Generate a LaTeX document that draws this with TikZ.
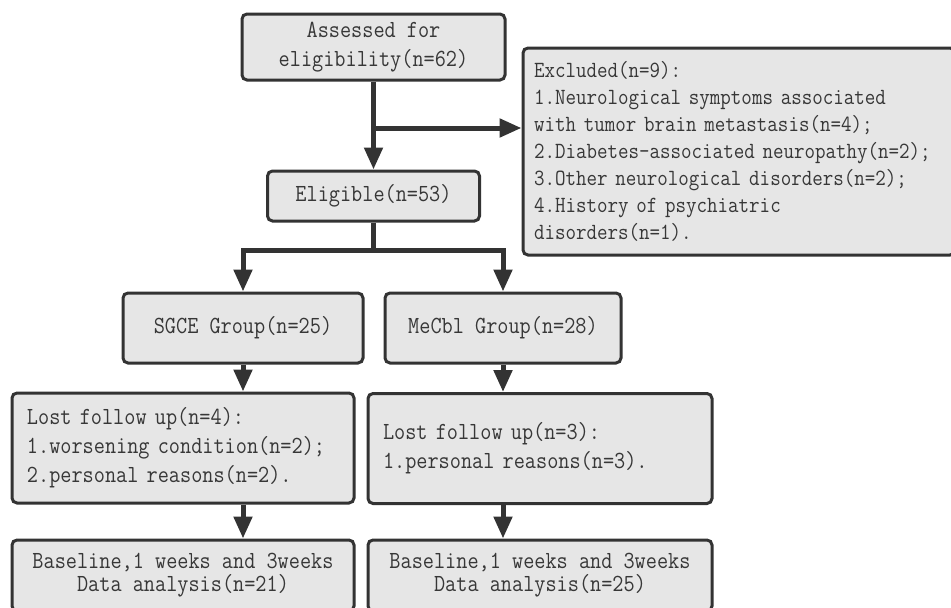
\documentclass[tikz,border=0pt]{standalone}
\usepackage{fontspec}
\setmonofont{Latin Modern Mono}[FakeStretch=0.88]
\usepackage{xcolor}
\usetikzlibrary{arrows.meta,positioning,calc}
\definecolor{boxgray}{RGB}{230,230,230}
\definecolor{inkgray}{RGB}{51,51,51}
\definecolor{textgray}{RGB}{55,55,55}
\newcommand{\boxfont}{\ttfamily\fontsize{24.6}{29}\selectfont\color{textgray}}
\newcommand{\notefont}{\ttfamily\fontsize{23.2}{27}\selectfont\color{textgray}}
\newcommand{\tightfont}{\ttfamily\fontsize{24.6}{23}\selectfont\color{textgray}}
\tikzset{
	stage/.style={
		rectangle,
		rounded corners=5pt,
		draw=inkgray,
		line width=3pt,
		fill=boxgray,
		inner sep=0pt,
		font=\boxfont,
		align=center,
	},
	notebox/.style={
		stage,
		align=left,
	},
	link/.style={
		-{Triangle[length=22pt,width=18pt]},
		line width=5pt,
		draw=inkgray,
	},
	trunk/.style={
		line width=5pt,
		draw=inkgray,
	},
}

\begin{document}
\begin{tikzpicture}[x=1pt,y=-1pt]

\useasboundingbox (0,0) rectangle (951,608);
\clip (0,0) rectangle (951,608);

\node[stage,minimum width=263pt,minimum height=66pt] (assess) at (373.5,47)
  {Assessed for\\eligibility(n=62)};
\node[notebox,font=\notefont,text width=410pt,minimum width=432pt,minimum height=207pt] (excl) at (739,151.5)
  {Excluded(n=9):\\
   1.Neurological symptoms associated\\
   with tumor brain metastasis(n=4);\\
   2.Diabetes-associated neuropathy(n=2);\\
   3.Other neurological disorders(n=2);\\
   4.History of psychiatric\\
   disorders(n=1).};
\node[stage,minimum width=212pt,minimum height=50pt] (elig) at (373.5,196) {Eligible(n=53)};
\node[stage,minimum width=240pt,minimum height=70pt] (sgce) at (243,328) {SGCE Group(n=25)};
\node[stage,minimum width=236pt,minimum height=70pt] (mecbl) at (503,328) {MeCbl Group(n=28)};
\node[notebox,text width=312pt,minimum width=342pt,minimum height=110pt] (lostA) at (183,448)
  {Lost follow up(n=4):\\
   1.worsening condition(n=2);\\
   2.personal reasons(n=2).};
\node[notebox,text width=314pt,minimum width=344pt,minimum height=110pt] (lostB) at (540,448.5)
  {Lost follow up(n=3):\\
   1.personal reasons(n=3).};
\node[stage,font=\tightfont,minimum width=342pt,minimum height=71pt] (baseA) at (183,575.5)
  {Baseline,1 weeks and 3weeks\\Data analysis(n=21)};
\node[stage,font=\tightfont,minimum width=344pt,minimum height=71pt] (baseB) at (540,575.5)
  {Baseline,1 weeks and 3weeks\\Data analysis(n=25)};

\coordinate (fork) at (373.5,128);
\coordinate (split) at (373.5,250);

\draw[link] 
  (assess.south) 
  -- 
  (assess.south |- elig.north);

\draw[link] 
  (fork) 
  -- 
  (fork -| excl.west);

\draw[trunk] 
  (elig.south) 
  -- 
  (split);

\draw[link] 
  (split) 
  -| 
  (sgce.north);

\draw[link] 
  (split) 
  -| 
  (mecbl.north);

\draw[link] 
  (sgce.south) 
  -- 
  (sgce.south |- lostA.north);

\draw[link] 
  (mecbl.south) 
  -- 
  (mecbl.south |- lostB.north);

\draw[link] 
  (sgce.south |- lostA.south) 
  -- 
  (sgce.south |- baseA.north);

\draw[link] 
  (mecbl.south |- lostB.south) 
  -- 
  (mecbl.south |- baseB.north);

\end{tikzpicture}
\end{document}
